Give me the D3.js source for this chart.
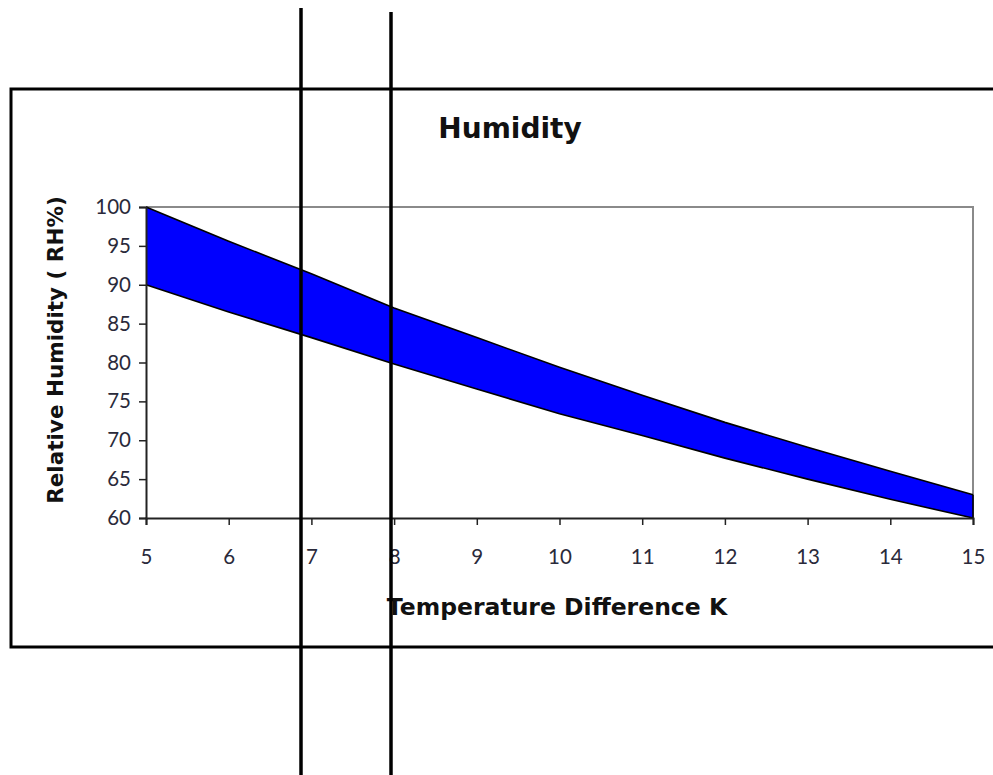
<!DOCTYPE html>
<html>
<head>
  <title>Humidity</title>
  <script src="https://d3js.org/d3.v7.min.js"></script>
  <style>
    body { margin: 0; background: #fff; }
    text { font-family: Lato, "DejaVu Sans", sans-serif; }
    .title { font-family: "DejaVu Sans", sans-serif; font-weight: bold; fill: #111; }
  </style>
</head>
<body>
  <svg id="graph"></svg>

  <script>
    // data
    const tempDiff = [5, 6, 7, 8, 9, 10, 11, 12, 13, 14, 15];
    const upperRH = [100, 95.6, 91.4, 87.0, 83.2, 79.4, 75.8, 72.3, 69.1, 66.0, 63.0];
    const lowerRH = [90, 86.5, 83.2, 79.8, 76.6, 73.4, 70.6, 67.7, 65.0, 62.4, 60.0];
    const yTicks = [60, 65, 70, 75, 80, 85, 90, 95, 100];
    const xTicks = [5, 6, 7, 8, 9, 10, 11, 12, 13, 14, 15];

    const svgWidth = 993, svgHeight = 775;
    const plotX = 146, plotY = 207;
    const plotW = 827, plotH = 311;

    const svg = d3.select("#graph")
      .attr("width", svgWidth)
      .attr("height", svgHeight);

    // outer frame (right side runs off the page)
    svg.append("path")
      .attr("d", `M${svgWidth + 5},89 H11 V647 H${svgWidth + 5}`)
      .attr("fill", "none")
      .attr("stroke", "#000")
      .attr("stroke-width", 3);

    const xScale = d3.scaleLinear().domain([5, 15]).range([0, plotW]);
    const yScale = d3.scaleLinear().domain([60, 100]).range([plotH, 0]);

    const g = svg.append("g")
      .attr("transform", `translate(${plotX}, ${plotY})`);

    // grey plot border top/right
    g.append("path")
      .attr("d", `M0,0 H${plotW} V${plotH}`)
      .attr("fill", "none")
      .attr("stroke", "#8a8a8a")
      .attr("stroke-width", 2);

    // band between the two curves
    const band = tempDiff.map((t, i) => ({ x: t, hi: upperRH[i], lo: lowerRH[i] }));
    g.append("path")
      .datum(band)
      .attr("fill", "#0000ff")
      .attr("stroke", "none")
      .attr("d", d3.area().x(d => xScale(d.x)).y0(d => yScale(d.lo)).y1(d => yScale(d.hi)));

    const line = d3.line().x(d => xScale(d[0])).y(d => yScale(d[1]));
    [upperRH, lowerRH].forEach(vals => {
      g.append("path")
        .datum(tempDiff.map((t, i) => [t, vals[i]]))
        .attr("fill", "none")
        .attr("stroke", "#000")
        .attr("stroke-width", 1.6)
        .attr("d", line);
    });
    // closing edge of the band
    g.append("line")
      .attr("x1", xScale(15)).attr("x2", xScale(15))
      .attr("y1", yScale(upperRH[10])).attr("y2", yScale(lowerRH[10]))
      .attr("stroke", "#000").attr("stroke-width", 1.6);

    // axes
    const yAxis = g.append("g")
      .call(d3.axisLeft(yScale).tickValues(yTicks).tickSize(7).tickPadding(8));
    const xAxis = g.append("g")
      .attr("transform", `translate(0, ${plotH})`)
      .call(d3.axisBottom(xScale).tickValues(xTicks).tickSize(7).tickPadding(24));

    [yAxis, xAxis].forEach(ax => {
      ax.select(".domain").attr("stroke", "#222").attr("stroke-width", 2);
      ax.selectAll(".tick line").attr("stroke", "#222").attr("stroke-width", 1.5);
      ax.selectAll(".tick text")
        .attr("fill", "#2a2a3a")
        .style("font-family", "Lato, sans-serif")
        .style("font-size", "20.5px");
    });

    // titles
    svg.append("text")
      .attr("class", "title")
      .attr("x", 510).attr("y", 138)
      .attr("text-anchor", "middle")
      .style("font-size", "28px")
      .text("Humidity");

    svg.append("text")
      .attr("class", "title")
      .attr("transform", "translate(63, 350) rotate(-90)")
      .attr("text-anchor", "middle")
      .style("font-size", "21.5px")
      .text("Relative Humidity ( RH%)");

    svg.append("text")
      .attr("class", "title")
      .attr("x", 557).attr("y", 615)
      .attr("text-anchor", "middle")
      .style("font-size", "23.5px")
      .text("Temperature Difference K");

    // two black vertical lines over everything
    const marks = [{ x: 301, top: 8 }, { x: 391, top: 12 }];
    svg.selectAll(".vmark")
      .data(marks)
      .enter()
      .append("line")
      .attr("class", "vmark")
      .attr("x1", d => d.x).attr("x2", d => d.x)
      .attr("y1", d => d.top).attr("y2", svgHeight)
      .attr("stroke", "#000")
      .attr("stroke-width", 3.5);
  </script>
</body>
</html>
